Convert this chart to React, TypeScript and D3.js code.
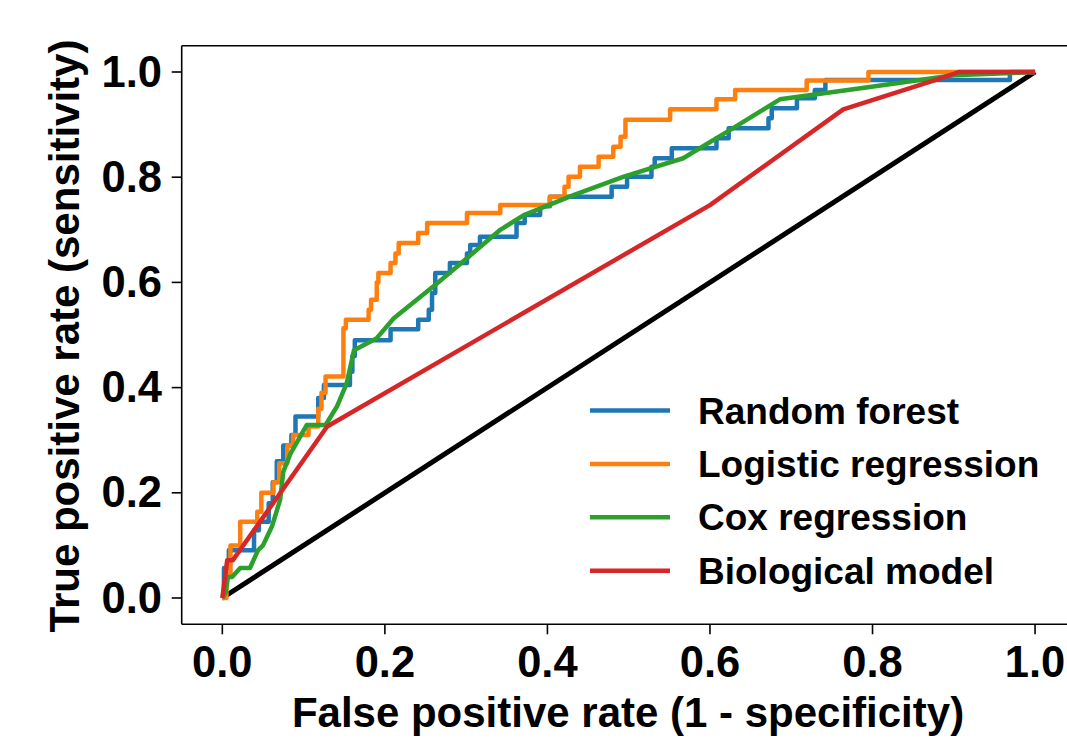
import React from "react";
import * as d3 from "d3";

const WIDTH = 1067;
const HEIGHT = 740;

const xTicks = [0, 0.2, 0.4, 0.6, 0.8, 1.0];
const yTicks = [0, 0.2, 0.4, 0.6, 0.8, 1.0];

const seriesNames = ["Random forest", "Logistic regression", "Cox regression", "Biological model"];
const seriesColors = ["#1f77b4", "#ff7f0e", "#2ca02c", "#d62728"];

// Random forest ROC corners
const rfFpr = [0, 0.002, 0.002, 0.008, 0.008, 0.039, 0.039, 0.045, 0.045, 0.057, 0.057, 0.062, 0.062, 0.067, 0.067, 0.075, 0.075, 0.085, 0.085, 0.09, 0.09, 0.118, 0.118, 0.125, 0.125, 0.157, 0.157, 0.16, 0.16, 0.163, 0.163, 0.207, 0.207, 0.241, 0.241, 0.254, 0.254, 0.258, 0.258, 0.262, 0.262, 0.28, 0.28, 0.301, 0.301, 0.305, 0.305, 0.317, 0.317, 0.362, 0.362, 0.372, 0.372, 0.391, 0.391, 0.403, 0.403, 0.479, 0.479, 0.498, 0.498, 0.528, 0.528, 0.532, 0.532, 0.553, 0.553, 0.608, 0.608, 0.623, 0.623, 0.672, 0.672, 0.676, 0.676, 0.707, 0.707, 0.729, 0.729, 0.742, 0.742, 0.969, 0.969, 1.0];
const rfTpr = [0, 0, 0.057, 0.057, 0.091, 0.091, 0.129, 0.129, 0.145, 0.145, 0.18, 0.18, 0.22, 0.22, 0.26, 0.26, 0.29, 0.29, 0.31, 0.31, 0.345, 0.345, 0.38, 0.38, 0.405, 0.405, 0.43, 0.43, 0.46, 0.46, 0.49, 0.49, 0.511, 0.511, 0.529, 0.529, 0.548, 0.548, 0.58, 0.58, 0.618, 0.618, 0.637, 0.637, 0.655, 0.655, 0.671, 0.671, 0.687, 0.687, 0.713, 0.713, 0.728, 0.728, 0.745, 0.745, 0.763, 0.763, 0.782, 0.782, 0.801, 0.801, 0.82, 0.82, 0.836, 0.836, 0.855, 0.855, 0.874, 0.874, 0.893, 0.893, 0.912, 0.912, 0.931, 0.931, 0.95, 0.95, 0.966, 0.966, 0.985, 0.985, 1.0, 1.0];

// Logistic regression ROC corners
const lrFpr = [0, 0.005, 0.005, 0.01, 0.01, 0.022, 0.022, 0.043, 0.043, 0.048, 0.048, 0.063, 0.063, 0.07, 0.07, 0.08, 0.08, 0.087, 0.087, 0.106, 0.106, 0.118, 0.118, 0.122, 0.122, 0.127, 0.127, 0.149, 0.149, 0.152, 0.152, 0.18, 0.18, 0.183, 0.183, 0.19, 0.19, 0.192, 0.192, 0.207, 0.207, 0.213, 0.213, 0.217, 0.217, 0.241, 0.241, 0.252, 0.252, 0.301, 0.301, 0.342, 0.342, 0.403, 0.403, 0.421, 0.421, 0.426, 0.426, 0.44, 0.44, 0.463, 0.463, 0.481, 0.481, 0.49, 0.49, 0.496, 0.496, 0.551, 0.551, 0.608, 0.608, 0.631, 0.631, 0.719, 0.719, 0.795, 0.795, 1.0];
const lrTpr = [0, 0, 0.045, 0.045, 0.1, 0.1, 0.145, 0.145, 0.164, 0.164, 0.2, 0.2, 0.22, 0.22, 0.256, 0.256, 0.29, 0.29, 0.31, 0.31, 0.326, 0.326, 0.36, 0.36, 0.39, 0.39, 0.421, 0.421, 0.513, 0.513, 0.529, 0.529, 0.548, 0.548, 0.567, 0.567, 0.6, 0.6, 0.618, 0.618, 0.637, 0.637, 0.655, 0.655, 0.675, 0.675, 0.694, 0.694, 0.713, 0.713, 0.732, 0.732, 0.747, 0.747, 0.763, 0.763, 0.782, 0.782, 0.801, 0.801, 0.82, 0.82, 0.839, 0.839, 0.858, 0.858, 0.877, 0.877, 0.909, 0.909, 0.929, 0.929, 0.948, 0.948, 0.966, 0.966, 0.984, 0.984, 1.0, 1.0];

// Cox regression curve points
const coxFpr = [0, 0.004, 0.007, 0.012, 0.022, 0.034, 0.044, 0.05, 0.061, 0.071, 0.075, 0.084, 0.104, 0.127, 0.141, 0.153, 0.162, 0.19, 0.211, 0.264, 0.301, 0.342, 0.371, 0.432, 0.494, 0.567, 0.625, 0.686, 0.79, 0.9, 1.0];
const coxTpr = [0, 0.01, 0.04, 0.04, 0.057, 0.057, 0.091, 0.1, 0.136, 0.186, 0.24, 0.275, 0.329, 0.329, 0.364, 0.408, 0.471, 0.494, 0.532, 0.598, 0.646, 0.7, 0.728, 0.766, 0.801, 0.836, 0.89, 0.948, 0.97, 0.994, 1.0];

// Biological model curve points
const bioFpr = [0, 0.006, 0.013, 0.129, 0.6, 0.764, 0.88, 0.906, 1.0];
const bioTpr = [0, 0.072, 0.072, 0.326, 0.747, 0.929, 0.986, 1.0, 1.0];

const chanceFpr = [0, 1];
const chanceTpr = [0, 1];

const FONT = "'Liberation Sans', Arial, Helvetica, sans-serif";

export default function App() {
  const x = d3.scaleLinear().domain([-0.05, 1.05]).range([181.7, 1075.7]);
  const y = d3.scaleLinear().domain([-0.05, 1.05]).range([624.3, 45.7]);

  const line = d3
    .line<[number, number]>()
    .x((d) => x(d[0]))
    .y((d) => y(d[1]));

  const zip = (a: number[], b: number[]) => a.map((v, i) => [v, b[i]] as [number, number]);

  const series = [
    zip(rfFpr, rfTpr),
    zip(lrFpr, lrTpr),
    zip(coxFpr, coxTpr),
    zip(bioFpr, bioTpr),
  ];

  const left = x(-0.05);
  const right = x(1.05);
  const top = y(1.05);
  const bottom = y(-0.05);

  const legendX = 590;
  const legendY0 = 410.5;
  const legendDy = 53.4;

  return (
    <svg
      width={WIDTH}
      height={HEIGHT}
      style={{ position: "fixed", left: 0, top: 0, background: "#fff" }}
      fontFamily={FONT}
    >
      <rect x={0} y={0} width={WIDTH} height={HEIGHT} fill="#fff" />
      {/* chance line */}
      <path d={line(zip(chanceFpr, chanceTpr)) || ""} fill="none" stroke="#000" strokeWidth={5} />
      {series.map((s, i) => (
        <path
          key={i}
          d={line(s) || ""}
          fill="none"
          stroke={seriesColors[i]}
          strokeWidth={4.5}
          strokeLinejoin="round"
          strokeLinecap="butt"
        />
      ))}
      {/* spines */}
      <line x1={left} x2={left} y1={top} y2={bottom} stroke="#000" strokeWidth={1.6} />
      <line x1={left} x2={right} y1={bottom} y2={bottom} stroke="#000" strokeWidth={1.6} />
      <line x1={left} x2={right} y1={top} y2={top} stroke="#000" strokeWidth={1.6} />
      <line x1={right} x2={right} y1={top} y2={bottom} stroke="#000" strokeWidth={1.6} />
      {/* x ticks */}
      {xTicks.map((t) => (
        <g key={"x" + t}>
          <line x1={x(t)} x2={x(t)} y1={bottom} y2={bottom + 10} stroke="#000" strokeWidth={1.6} />
          <text
            x={x(t)}
            y={676.5}
            textAnchor="middle"
            fontSize={43.5}
            fontWeight="bold"
            fill="#000"
          >
            {t.toFixed(1)}
          </text>
        </g>
      ))}
      {/* y ticks */}
      {yTicks.map((t) => (
        <g key={"y" + t}>
          <line x1={left - 10} x2={left} y1={y(t)} y2={y(t)} stroke="#000" strokeWidth={1.6} />
          <text
            x={162}
            y={y(t) + 14.5}
            textAnchor="end"
            fontSize={43.5}
            fontWeight="bold"
            fill="#000"
          >
            {t.toFixed(1)}
          </text>
        </g>
      ))}
      {/* axis labels */}
      <text
        x={628}
        y={727}
        textAnchor="middle"
        fontSize={42}
        fontWeight="bold"
        fill="#000"
      >
        False positive rate (1 - specificity)
      </text>
      <text
        transform={`translate(79,336) rotate(-90)`}
        textAnchor="middle"
        fontSize={42}
        fontWeight="bold"
        fill="#000"
      >
        True positive rate (sensitivity)
      </text>
      {/* legend */}
      {seriesNames.map((name, i) => (
        <g key={name}>
          <line
            x1={legendX}
            x2={legendX + 80}
            y1={legendY0 + i * legendDy}
            y2={legendY0 + i * legendDy}
            stroke={seriesColors[i]}
            strokeWidth={4.5}
          />
          <text
            x={698}
            y={legendY0 + i * legendDy + 13}
            fontSize={37}
            fontWeight="bold"
            fill="#000"
          >
            {name}
          </text>
        </g>
      ))}
    </svg>
  );
}
